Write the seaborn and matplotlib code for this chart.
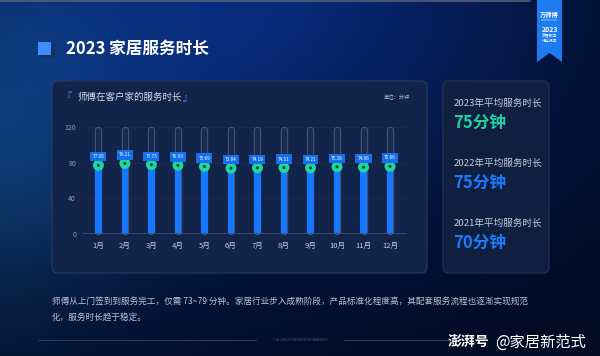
import numpy as np
import pandas as pd
import seaborn as sns
import matplotlib.pyplot as plt
from matplotlib.patches import FancyBboxPatch, Polygon, Rectangle

# data
months = ['1月', '2月', '3月', '4月', '5月', '6月', '7月', '8月', '9月', '10月', '11月', '12月']
minutes = [77.06, 79.21, 77.73, 76.99, 75.69, 73.84, 74.19, 74.51, 74.21, 75.38, 74.96, 75.86]
y_ticks = [0, 40, 80, 120]
year_labels = ['2023年平均服务时长', '2022年平均服务时长', '2021年平均服务时长']
year_values = ['75分钟', '75分钟', '70分钟']

df = pd.DataFrame({'month': months, 'minutes': minutes})

sns.set_style("dark")
plt.rcParams['font.family'] = ['Noto Sans CJK SC', 'DejaVu Sans']

W, H = 600, 356
fig = plt.figure(figsize=(6, 3.56), dpi=100)

# background layer in pixel coordinates
bg = fig.add_axes([0, 0, 1, 1])
bg.set_xlim(0, W)
bg.set_ylim(H, 0)
bg.axis('off')

xx, yy = np.meshgrid(np.arange(W), np.arange(H))
dark = np.array([2, 10, 34]) / 255
glow = np.array([8, 42, 122]) / 255
teal = np.array([14, 58, 98]) / 255
g1 = np.exp(-(((xx - 230) / 320) ** 2 + ((yy + 10) / 240) ** 2))
g2 = np.exp(-(((xx + 20) / 160) ** 2 + ((yy - 140) / 190) ** 2))
img = dark + g1[..., None] * (glow - dark) + g2[..., None] * (teal - dark) * 0.8
bg.imshow(np.clip(img, 0, 1), extent=(0, W, H, 0), aspect='auto', zorder=0)
bg.plot([0, 530], [0.8, 0.8], color='#55607a', lw=1.2, zorder=1)

# title + icon
bg.add_patch(Rectangle((41, 45), 13, 13, fc='#16305c', ec='none', zorder=2))
bg.add_patch(Rectangle((38, 42), 13, 13, fc='#3f8cff', ec='none', zorder=3))
bg.text(66, 49, '2023 家居服务时长', color='white', fontsize=12, fontweight='bold',
        va='center', ha='left', zorder=3)

# ribbon top right
bg.add_patch(Polygon([(537, 0), (562, 0), (562, 62), (549.5, 53), (537, 62)],
                     closed=True, fc='#1f7cf0', ec='none', zorder=2))
bg.text(549.5, 14, '万师傅', color='white', fontsize=4.5, fontweight='bold', ha='center', va='center', zorder=3)
bg.text(549.5, 20, 'wanshifu.com', color='#cfe2ff', fontsize=1.8, ha='center', va='center', zorder=3)
bg.text(549.5, 29.5, '2023', color='white', fontsize=5, fontweight='bold', ha='center', va='center', zorder=3)
bg.text(549.5, 36, '家居服务', color='white', fontsize=2.8, ha='center', va='center', zorder=3)
bg.text(549.5, 41, '行业报告', color='white', fontsize=2.8, ha='center', va='center', zorder=3)

# panels
bg.add_patch(FancyBboxPatch((52, 81), 375, 192, boxstyle='round,pad=0,rounding_size=6',
                            fc='#13244a', ec='#2a3b62', lw=0.8, zorder=1))
bg.add_patch(FancyBboxPatch((443, 81), 106, 192, boxstyle='round,pad=0,rounding_size=6',
                            fc='#101e40', ec='#22335a', lw=0.8, zorder=1))

bg.text(63, 96, '『', color='#2f86ff', fontsize=6.5, ha='left', va='center', zorder=3)
bg.text(77, 97, '师傅在客户家的服务时长', color='#d4dbe9', fontsize=6.8, fontweight='medium',
        ha='left', va='center', zorder=3)
bg.text(183, 98, '』', color='#2f86ff', fontsize=6.5, ha='left', va='center', zorder=3)
bg.text(410, 97, '单位：分钟', color='#aab4c8', fontsize=3.8, ha='right', va='center', zorder=3)

# right panel stats
for i, (lab, val) in enumerate(zip(year_labels, year_values)):
    y0 = 103 + i * 60
    bg.text(454, y0, lab, color='#c5cddd', fontsize=6.9, fontweight='medium',
            ha='left', va='center', zorder=3)
    bg.text(453, y0 + 20, val, color='#1ed3a0' if i == 0 else '#1a7cff', fontsize=12,
            fontweight='bold', ha='left', va='center', zorder=3)

# footnote text
bg.text(52, 301, '师傅从上门签到到服务完工，仅需 73~79 分钟。家居行业步入成熟阶段，产品标准化程度高，其配套服务流程也逐渐实现规范',
        color='#b9c3d7', fontsize=6.2, ha='left', va='center', zorder=3)
bg.text(52, 317, '化，服务时长趋于稳定。', color='#b9c3d7', fontsize=6.2, ha='left', va='center', zorder=3)

bg.plot([38, 256], [340, 340], color='#2b3a5c', lw=0.8, zorder=2)
bg.plot([344, 470], [340, 340], color='#2b3a5c', lw=0.8, zorder=2)
bg.text(300, 340, '© ALL RIGHTS RESERVED BY WANSHIFU', color='#4b5a7c', fontsize=2.2,
        ha='center', va='center', zorder=3)
bg.text(448, 342, '澎湃号', color='white', fontsize=10, fontweight='bold', style='italic',
        ha='left', va='center', zorder=3)
bg.text(495, 342, '@家居新范式', color='white', fontsize=11, ha='left', va='center', zorder=3)

# chart axes
ax = fig.add_axes([83 / W, (H - 234) / H, 324 / W, 107 / H])
ax.set_facecolor('none')
pos = np.arange(len(months))

# tracks behind the bars
for p in pos:
    ax.plot([p, p], [3.9, 116.1], color='#56688c', lw=5.3, solid_capstyle='round',
            alpha=0.8, zorder=1, clip_on=False)
    ax.plot([p, p], [3.9, 116.1], color='#1a2b52', lw=3.9, solid_capstyle='round',
            zorder=1.5, clip_on=False)

sns.barplot(data=df, x='month', y='minutes', color='#1677ff', width=0.25, saturation=1,
            edgecolor='none', linewidth=0, ax=ax, zorder=2)
sns.scatterplot(x=pos, y=minutes, s=62, color='#1fd69c', edgecolor='none', ax=ax, zorder=4,
                clip_on=False)
sns.scatterplot(x=pos, y=minutes, s=5, color='#0b4a3a', edgecolor='none', ax=ax, zorder=5,
                clip_on=False)

for p, v in zip(pos, minutes):
    ax.text(p, v + 9.5, f'{v:.2f}', color='white', fontsize=3.4, ha='center', va='center',
            zorder=6, bbox=dict(boxstyle='square,pad=0.45', fc='#1570ef', ec='none'))

ax.axhline(0, color='#3e4d6b', lw=1.2, zorder=3)
for t in y_ticks[1:]:
    ax.axhline(t, color='#ffffff', lw=0.5, alpha=0.04, zorder=0.5)

ax.set_xlim(-0.58, 11.64)
ax.set_ylim(0, 120)
ax.set_yticks(y_ticks)
ax.set_xticks(pos)
ax.set_xticklabels(months)
ax.tick_params(axis='y', colors='#8d9bb5', labelsize=5, length=0, pad=5)
ax.tick_params(axis='x', colors='#c3cbe0', labelsize=5.5, length=0, pad=6)
ax.set_xlabel('')
ax.set_ylabel('')
ax.grid(False)
for s in ax.spines.values():
    s.set_visible(False)

fig.savefig('out.png', dpi=100)
